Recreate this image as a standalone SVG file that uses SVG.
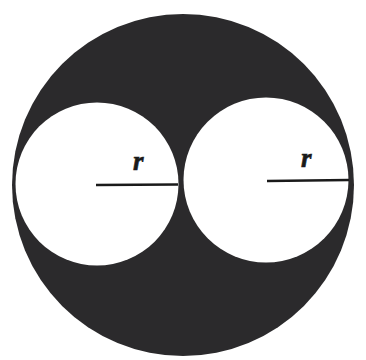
<svg xmlns="http://www.w3.org/2000/svg" width="366" height="360" viewBox="0 0 366 360">
<style>
.lbl{font-family:"Liberation Serif","Times New Roman",serif;font-style:italic;font-weight:bold;font-size:27px;fill:#1a1a1a;stroke:#1a1a1a;stroke-width:0.6}
.rad{stroke:#1a1a1a;stroke-width:2.6;fill:none}
</style>
<rect width="366" height="360" fill="#ffffff"/>
<g id="outer"><circle cx="183" cy="185" r="171" fill="#2b2a2c"/></g>
<g id="left"><circle cx="97" cy="184" r="81.5" fill="#ffffff"/></g>
<g id="right"><circle cx="266" cy="180" r="82.5" fill="#ffffff"/></g>
<g id="connectors">
<line class="rad" x1="96" y1="185" x2="178" y2="184.5"/>
<line class="rad" x1="267" y1="181" x2="349" y2="180"/>
</g>
<text class="lbl" x="133" y="170">r</text>
<text class="lbl" x="301" y="167">r</text>
</svg>
